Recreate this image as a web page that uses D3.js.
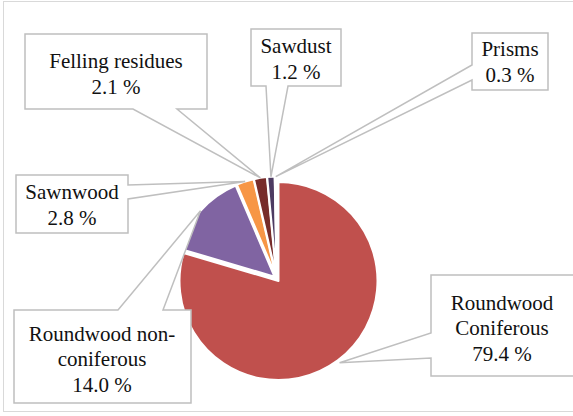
<!DOCTYPE html>
<html>
<head>
<meta charset="utf-8">
<script src="https://cdn.jsdelivr.net/npm/d3@7"></script>
<style>
  html, body { margin: 0; padding: 0; background: #fff; }
  svg { display: block; }
</style>
</head>
<body>
<svg id="chart" width="573" height="416"></svg>
<script>
// Wood assortment shares (%)
const categories = ["Roundwood Coniferous", "Roundwood non-coniferous", "Sawnwood", "Felling residues", "Sawdust", "Prisms"];
const shares = [79.4, 14.0, 2.8, 2.1, 1.2, 0.3];
const sliceColors = ["#C0504D", "#8064A2", "#F79646", "#772C2A", "#4D3B62", "#B65708"];
// Label text broken into lines (name lines, then the percentage line)
const nameLines = [["Roundwood", "Coniferous"], ["Roundwood non-", "coniferous"], ["Sawnwood"], ["Felling residues"], ["Sawdust"], ["Prisms"]];

// Callout boxes: rectangle, side carrying the pointer, pointer base span, text centre
const callouts = [
  { x0: 431, y0: 275, x1: 580, y1: 376, side: "left",   a: 333, b: 358, tx: 502, ty: 328 },
  { x0: 14,  y0: 310, x1: 191, y1: 403, side: "top",    a: 118, b: 163, tx: 102, ty: 359 },
  { x0: 16,  y0: 175, x1: 128, y1: 233, side: "right",  a: 185, b: 199, tx: 72,  ty: 205 },
  { x0: 25,  y0: 34,  x1: 207, y1: 109, side: "bottom", a: 133, b: 177, tx: 116, ty: 74 },
  { x0: 251, y0: 29,  x1: 341, y1: 86,  side: "bottom", a: 266, b: 288, tx: 296, ty: 59 },
  { x0: 472, y0: 33,  x1: 548, y1: 90,  side: "left",   a: 65,  b: 80,  tx: 510, ty: 62 }
];

const svg = d3.select("#chart");

// Chart frame
svg.append("rect")
  .attr("x", 3.5).attr("y", 1.5)
  .attr("width", 580).attr("height", 410)
  .attr("fill", "#fff").attr("stroke", "#D9D9D9").attr("stroke-width", 1);

const cx = 276.7, cy = 278.6, radius = 99, explode = 3;

const pie = d3.pie().sort(null).value(d => d)(shares);
const arc = d3.arc().innerRadius(0).outerRadius(radius);

const offsetOf = d => {
  const mid = (d.startAngle + d.endAngle) / 2;
  return [explode * Math.sin(mid), -explode * Math.cos(mid)];
};

const pieG = svg.append("g").attr("transform", `translate(${cx},${cy})`);
pieG.selectAll("path.slice")
  .data(pie)
  .join("path")
  .attr("class", "slice")
  .attr("transform", d => { const o = offsetOf(d); return `translate(${o[0]},${o[1]})`; })
  .attr("d", arc)
  .attr("fill", (d, i) => sliceColors[i])
  .attr("stroke", "#fff")
  .attr("stroke-width", 2)
  .attr("stroke-linejoin", "round");

// Pointer tip sits on the outer edge of each slice at its mid angle
const tipOf = (d, extra) => {
  const mid = (d.startAngle + d.endAngle) / 2;
  const o = offsetOf(d);
  const r = radius + extra;
  return [cx + o[0] + r * Math.sin(mid), cy + o[1] - r * Math.cos(mid)];
};

function calloutPath(c, t) {
  const { x0, y0, x1, y1, side, a, b } = c;
  const p = [];
  p.push([x0, y0]);
  if (side === "top") p.push([a, y0], t, [b, y0]);
  p.push([x1, y0]);
  if (side === "right") p.push([x1, a], t, [x1, b]);
  p.push([x1, y1]);
  if (side === "bottom") p.push([b, y1], t, [a, y1]);
  p.push([x0, y1]);
  if (side === "left") p.push([x0, b], t, [x0, a]);
  return "M" + p.map(q => q.join(",")).join("L") + "Z";
}

const labelG = svg.append("g");
pie.forEach((d, i) => {
  const c = callouts[i];
  const tip = tipOf(d, i === 0 ? 3 : 0);
  labelG.append("path")
    .attr("d", calloutPath(c, tip))
    .attr("fill", "#fff")
    .attr("stroke", "#BFBFBF")
    .attr("stroke-width", 1.5)
    .attr("stroke-linejoin", "miter");

  const lines = nameLines[i].concat([d3.format(".1f")(shares[i]) + " %"]);
  const lh = 25.5;
  const first = c.ty - (lines.length - 1) * lh / 2 + 7;
  lines.forEach((ln, k) => {
    labelG.append("text")
      .attr("x", c.tx)
      .attr("y", first + k * lh)
      .attr("text-anchor", "middle")
      .style("font-family", '"Liberation Serif"')
      .style("font-size", "21px")
      .style("fill", "#111")
      .text(ln);
  });
});
</script>
</body>
</html>
